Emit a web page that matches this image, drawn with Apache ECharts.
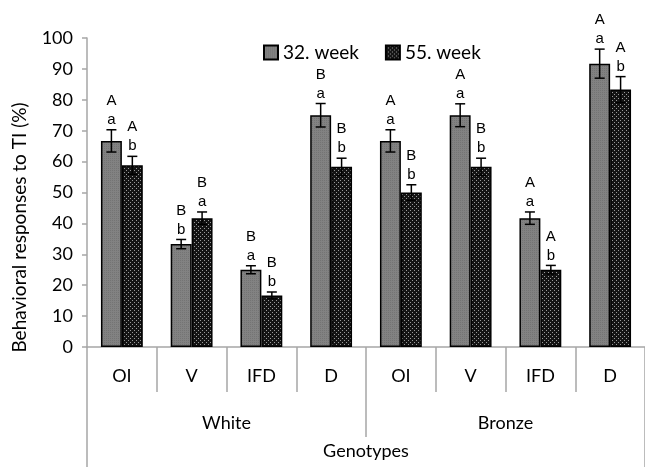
<!DOCTYPE html>
<html>
<head>
<meta charset="utf-8">
<script src="https://cdn.jsdelivr.net/npm/echarts@6/dist/echarts.min.js"></script>
<style>
  html, body { margin: 0; padding: 0; background: #fff; }
  #chart { width: 645px; height: 467px; }
</style>
</head>
<body>
<div id="chart"></div>
<script>
// Tonic immobility responses by genotype and age
const categories = ['OI', 'V', 'IFD', 'D', 'OI', 'V', 'IFD', 'D'];
const groups = ['White', 'Bronze'];
const seriesNames = ['32. week', '55. week'];

const week32 = [66.7, 33.3, 25.0, 75.0, 66.7, 75.0, 41.7, 91.7];
const week55 = [58.8, 41.7, 16.7, 58.3, 50.0, 58.3, 25.0, 83.3];
const err32 = [3.6, 1.5, 1.3, 3.8, 3.6, 3.7, 2.0, 4.7];
const err55 = [2.9, 2.0, 1.1, 2.8, 2.5, 2.8, 1.4, 4.2];

// significance letters: [week comparison (upper), group comparison (lower)]
const upper32 = ['A', 'B', 'B', 'B', 'A', 'A', 'A', 'A'];
const lower32 = ['a', 'b', 'a', 'a', 'a', 'a', 'a', 'a'];
const upper55 = ['A', 'B', 'B', 'B', 'B', 'B', 'A', 'A'];
const lower55 = ['b', 'a', 'b', 'b', 'b', 'b', 'b', 'b'];

const FONT = 'Lato, "Open Sans", sans-serif';
const LETTER_FONT = '15px "Liberation Sans", Arial, sans-serif';
const AXIS_GRAY = '#a6a6a6';

function makePattern(size, bg, dots, dotColor) {
  const c = document.createElement('canvas');
  c.width = size; c.height = size;
  const g = c.getContext('2d');
  g.fillStyle = bg;
  g.fillRect(0, 0, size, size);
  g.fillStyle = dotColor;
  dots.forEach(d => g.fillRect(d[0], d[1], 1, 1));
  return { image: c, repeat: 'repeat' };
}

const fill32 = makePattern(2, '#828282', [[0, 0]], '#747474');
const fill55 = makePattern(4, '#141414', [[0, 0], [2, 2]], '#9a9a9a');

const BAR_SHARE = 0.6; // fraction of the category band taken by the two bars

function errorRows(vals, errs, up, low) {
  return vals.map((v, i) => [i, v, errs[i], up[i], low[i]]);
}

function errorRenderer(side) {
  return function (params, api) {
    const i = api.value(0);
    const v = api.value(1);
    const e = api.value(2);
    const band = api.size([1, 0])[0];
    const barW = band * BAR_SHARE / 2;
    const x = api.coord([i, v])[0] + side * barW / 2;
    const yTop = api.coord([i, v + e])[1];
    const yBot = api.coord([i, v - e])[1];
    const cap = 5;
    const st = { stroke: '#000', lineWidth: 1.5 };
    const data = params.dataIndex;
    const rows = side < 0 ? [upper32, lower32] : [upper55, lower55];
    return {
      type: 'group',
      children: [
        { type: 'line', shape: { x1: x, y1: yTop, x2: x, y2: yBot }, style: st },
        { type: 'line', shape: { x1: x - cap, y1: yTop, x2: x + cap, y2: yTop }, style: st },
        { type: 'line', shape: { x1: x - cap, y1: yBot, x2: x + cap, y2: yBot }, style: st },
        { type: 'text', x: x, y: yTop - 10,
          style: { text: rows[1][data], fill: '#000', font: LETTER_FONT,
                   align: 'center', verticalAlign: 'middle' } },
        { type: 'text', x: x, y: yTop - 29,
          style: { text: rows[0][data], fill: '#000', font: LETTER_FONT,
                   align: 'center', verticalAlign: 'middle' } }
      ]
    };
  };
}

function tick(len) {
  return { show: true, interval: 0, length: len, lineStyle: { color: AXIS_GRAY, width: 1.5 } };
}

const chart = echarts.init(document.getElementById('chart'), null, { renderer: 'canvas' });

chart.setOption({
  animation: false,
  backgroundColor: '#fff',
  textStyle: { fontFamily: FONT, color: '#000' },
  legend: {
    data: seriesNames,
    icon: 'rect',
    left: 258,
    top: 38,
    itemWidth: 14,
    itemHeight: 14,
    itemGap: 26,
    textStyle: { fontSize: 19, fontFamily: FONT, color: '#000' }
  },
  grid: { left: 87, top: 38, width: 561, height: 309 },
  xAxis: [
    {
      type: 'category',
      data: categories,
      axisLine: { show: true, lineStyle: { color: AXIS_GRAY, width: 1.5 } },
      axisTick: tick(45),
      axisLabel: { fontSize: 18, color: '#000', margin: 20, fontFamily: FONT, interval: 0 }
    },
    {
      type: 'category',
      data: groups,
      position: 'bottom',
      axisLine: { show: true, lineStyle: { color: 'rgba(0,0,0,0)' } },
      axisTick: tick(90),
      axisLabel: { fontSize: 18, color: '#000', margin: 67, fontFamily: FONT, interval: 0 }
    },
    {
      type: 'category',
      data: ['Genotypes'],
      position: 'bottom',
      axisLine: { show: true, lineStyle: { color: 'rgba(0,0,0,0)' } },
      axisTick: tick(125),
      axisLabel: { fontSize: 18, color: '#000', margin: 95, fontFamily: FONT, interval: 0 }
    }
  ],
  yAxis: {
    type: 'value',
    min: 0,
    max: 100,
    interval: 10,
    name: 'Behavioral responses to TI (%)',
    nameLocation: 'middle',
    nameRotate: 90,
    nameGap: 58,
    nameTextStyle: { fontSize: 19, color: '#000', fontFamily: FONT, padding: [0, 70, 0, 0] },
    splitLine: { show: false },
    axisLine: { show: true, lineStyle: { color: AXIS_GRAY, width: 1.5 } },
    axisTick: { show: true, length: 5, lineStyle: { color: AXIS_GRAY, width: 1.5 } },
    axisLabel: { fontSize: 18, color: '#000', margin: 14, fontFamily: FONT }
  },
  series: [
    {
      name: seriesNames[0],
      type: 'bar',
      data: week32,
      barGap: '0%',
      barCategoryGap: '40%',
      itemStyle: { color: fill32, borderColor: '#000', borderWidth: 1.5 }
    },
    {
      name: seriesNames[1],
      type: 'bar',
      data: week55,
      barGap: '0%',
      barCategoryGap: '40%',
      itemStyle: { color: fill55, borderColor: '#000', borderWidth: 1.5 }
    },
    {
      type: 'custom',
      data: errorRows(week32, err32, upper32, lower32),
      renderItem: errorRenderer(-1),
      encode: { x: 0, y: 1 },
      z: 5
    },
    {
      type: 'custom',
      data: errorRows(week55, err55, upper55, lower55),
      renderItem: errorRenderer(1),
      encode: { x: 0, y: 1 },
      z: 5
    }
  ]
});
</script>
</body>
</html>
